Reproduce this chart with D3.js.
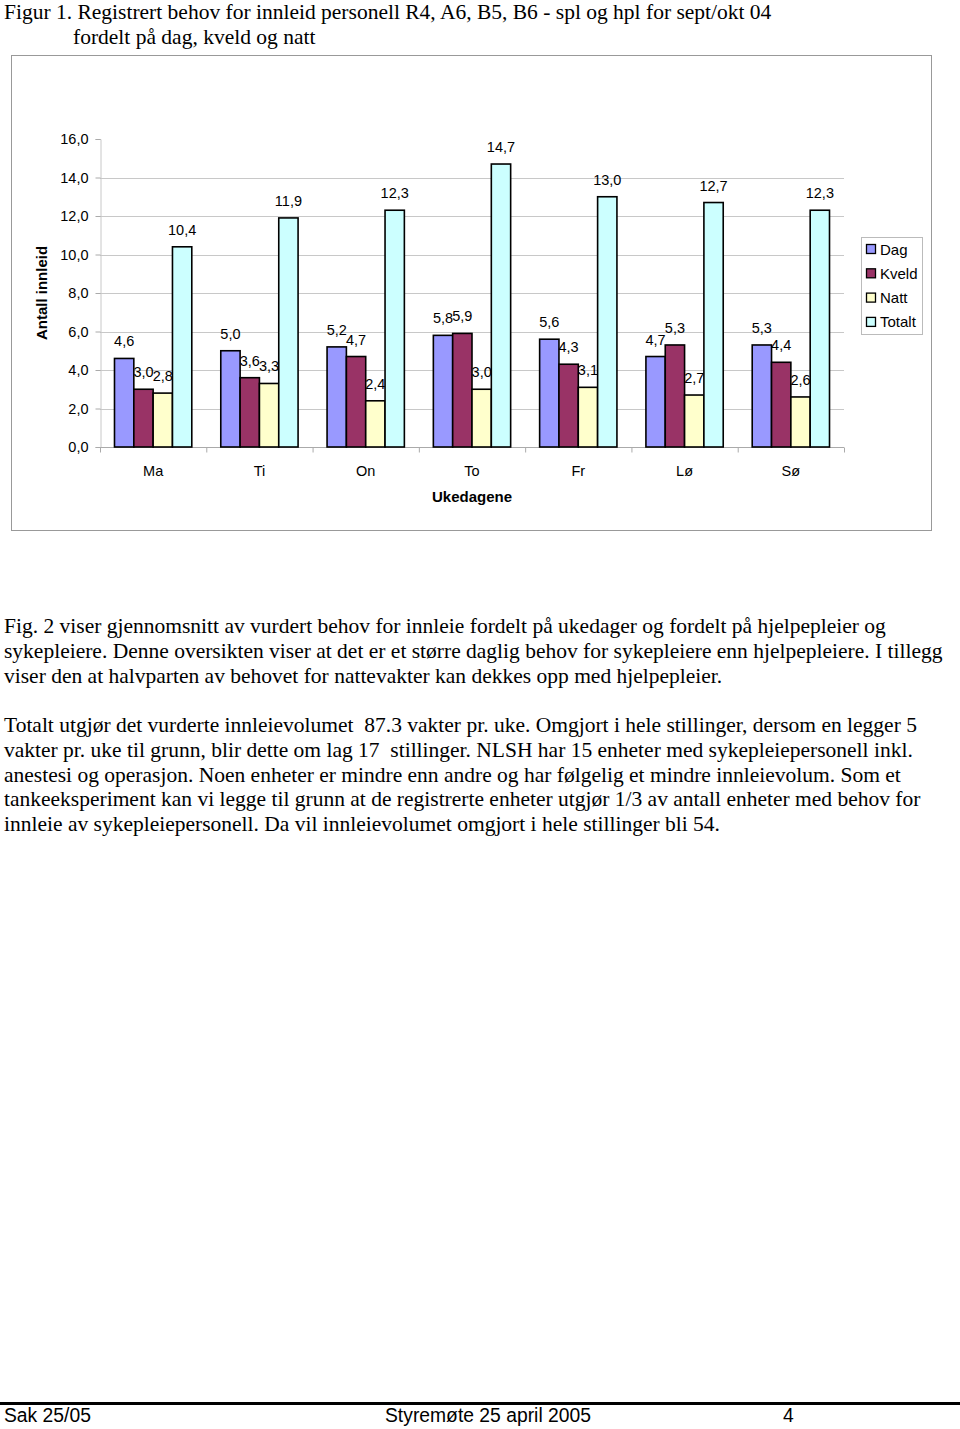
<!DOCTYPE html>
<html>
<head>
<meta charset="utf-8">
<script src="https://cdn.jsdelivr.net/npm/d3@7"></script>
<style>
  body { margin: 0; background: #fff; }
  svg { display: block; }
</style>
</head>
<body>
<div id="page"></div>
<script>
// chart data
const days = ["Ma", "Ti", "On", "To", "Fr", "Lø", "Sø"];
const seriesNames = ["Dag", "Kveld", "Natt", "Totalt"];
const dag = [4.6, 5.0, 5.2, 5.8, 5.6, 4.7, 5.3];
const kveld = [3.0, 3.6, 4.7, 5.9, 4.3, 5.3, 4.4];
const natt = [2.8, 3.3, 2.4, 3.0, 3.1, 2.7, 2.6];
const totalt = [10.4, 11.9, 12.3, 14.7, 13.0, 12.7, 12.3];
const seriesColors = ["#9999ff", "#993366", "#ffffcc", "#ccffff"];
const yTicks = [0, 2, 4, 6, 8, 10, 12, 14, 16];

const titleLines = [
  "Figur 1. Registrert behov for innleid personell R4, A6, B5, B6 - spl og hpl for sept/okt 04",
  "fordelt på dag, kveld og natt"
];
const para1 = [
  "Fig. 2 viser gjennomsnitt av vurdert behov for innleie fordelt på ukedager og fordelt på hjelpepleier og",
  "sykepleiere. Denne oversikten viser at det er et større daglig behov for sykepleiere enn hjelpepleiere. I tillegg",
  "viser den at halvparten av behovet for nattevakter kan dekkes opp med hjelpepleier."
];
const para2 = [
  "Totalt utgjør det vurderte innleievolumet  87.3 vakter pr. uke. Omgjort i hele stillinger, dersom en legger 5",
  "vakter pr. uke til grunn, blir dette om lag 17  stillinger. NLSH har 15 enheter med sykepleiepersonell inkl.",
  "anestesi og operasjon. Noen enheter er mindre enn andre og har følgelig et mindre innleievolum. Som et",
  "tankeeksperiment kan vi legge til grunn at de registrerte enheter utgjør 1/3 av antall enheter med behov for",
  "innleie av sykepleiepersonell. Da vil innleievolumet omgjort i hele stillinger bli 54."
];

const series = [dag, kveld, natt, totalt];
const fmt = v => d3.format(".1f")(v).replace(".", ",");

const svg = d3.select("#page").append("svg")
  .attr("width", 960)
  .attr("height", 1429);

const serif = "Liberation Serif, Times New Roman, serif";
const font = "Liberation Sans, Arial, sans-serif";
const fs = 14.5;

// title
svg.append("g").selectAll("text")
  .data(titleLines)
  .join("text")
  .attr("x", (d, i) => i === 0 ? 4 : 73)
  .attr("y", (d, i) => 19 + i * 24.5)
  .attr("font-family", serif)
  .attr("font-size", 21.5)
  .attr("fill", "#000")
  .text(d => d);

// chart frame
svg.append("rect")
  .attr("x", 11.5).attr("y", 55.5)
  .attr("width", 920).attr("height", 475)
  .attr("fill", "#fff")
  .attr("stroke", "#999")
  .attr("stroke-width", 1);

const plot = { left: 100, right: 844, top: 139, bottom: 447 };

const x0 = d3.scaleBand()
  .domain(days)
  .range([plot.left, plot.right])
  .paddingInner(0)
  .paddingOuter(0);

// bars take 4/5.5 of the category width
const x1 = d3.scaleBand()
  .domain(seriesNames)
  .range([0, x0.bandwidth() * 4 / 5.5]);
const groupOffset = x0.bandwidth() * 0.75 / 5.5;

const y = d3.scaleLinear().domain([0, 16]).range([plot.bottom, plot.top]);

// gridlines
svg.append("g").selectAll("line")
  .data(yTicks.filter(t => t > 0 && t < 16))
  .join("line")
  .attr("x1", plot.left).attr("x2", plot.right)
  .attr("y1", d => Math.round(y(d)) + 0.5)
  .attr("y2", d => Math.round(y(d)) + 0.5)
  .attr("stroke", "#c8c8c8");

// y axis
const yAxis = svg.append("g")
  .attr("transform", `translate(${plot.left + 0.5},0)`)
  .call(d3.axisLeft(y).tickValues(yTicks).tickSize(5).tickPadding(7).tickFormat(fmt));
yAxis.select(".domain").attr("stroke", "#c8c8c8");
yAxis.selectAll(".tick line").attr("stroke", "#aaa");
yAxis.selectAll(".tick text")
  .attr("font-family", font).attr("font-size", fs).attr("fill", "#000");

// x axis with ticks at category boundaries
const xAxisG = svg.append("g")
  .attr("transform", `translate(0,${plot.bottom + 0.5})`);
xAxisG.append("line")
  .attr("x1", plot.left).attr("x2", plot.right)
  .attr("stroke", "#aaa");
xAxisG.selectAll("line.tick")
  .data(days.concat(["end"]))
  .join("line")
  .attr("class", "tick")
  .attr("x1", (d, i) => i < days.length ? x0(d) + 0.5 : plot.right + 0.5)
  .attr("x2", (d, i) => i < days.length ? x0(d) + 0.5 : plot.right + 0.5)
  .attr("y1", 0).attr("y2", 5)
  .attr("stroke", "#aaa");
xAxisG.selectAll("text")
  .data(days)
  .join("text")
  .attr("x", d => x0(d) + x0.bandwidth() / 2)
  .attr("y", 28)
  .attr("text-anchor", "middle")
  .attr("font-family", font).attr("font-size", fs)
  .text(d => d);

// bars and labels, series by series so later bars cover earlier labels
series.forEach((vals, si) => {
  const name = seriesNames[si];
  const g = svg.append("g");
  g.selectAll("rect")
    .data(vals)
    .join("rect")
    .attr("x", (d, i) => x0(days[i]) + groupOffset + x1(name))
    .attr("y", d => y(d))
    .attr("width", x1.bandwidth())
    .attr("height", d => plot.bottom - y(d))
    .attr("fill", seriesColors[si])
    .attr("stroke", "#000")
    .attr("stroke-width", 1.6);
  g.selectAll("text")
    .data(vals)
    .join("text")
    .attr("x", (d, i) => x0(days[i]) + groupOffset + x1(name) + x1.bandwidth() / 2)
    .attr("y", d => y(d) - 12)
    .attr("text-anchor", "middle")
    .attr("font-family", font).attr("font-size", fs)
    .text(d => fmt(d));
});

// axis titles
svg.append("text")
  .attr("transform", "translate(47,293) rotate(-90)")
  .attr("text-anchor", "middle")
  .attr("font-family", font).attr("font-size", 15).attr("font-weight", "bold")
  .text("Antall innleid");
svg.append("text")
  .attr("x", 472).attr("y", 502)
  .attr("text-anchor", "middle")
  .attr("font-family", font).attr("font-size", 15).attr("font-weight", "bold")
  .text("Ukedagene");

// legend
const legend = svg.append("g");
legend.append("rect")
  .attr("x", 861.5).attr("y", 237.5)
  .attr("width", 61).attr("height", 97)
  .attr("fill", "#fff").attr("stroke", "#bbb");
const items = legend.selectAll("g.item")
  .data(seriesNames)
  .join("g")
  .attr("class", "item")
  .attr("transform", (d, i) => `translate(866,${249 + i * 24.3})`);
items.append("rect")
  .attr("x", 0.5).attr("y", -4.5)
  .attr("width", 9).attr("height", 9)
  .attr("fill", (d, i) => seriesColors[i])
  .attr("stroke", "#000").attr("stroke-width", 1.3);
items.append("text")
  .attr("x", 14).attr("y", 5.5)
  .attr("font-family", font).attr("font-size", 15)
  .text(d => d);

// body text
svg.append("g").selectAll("text")
  .data(para1)
  .join("text")
  .attr("x", 4)
  .attr("y", (d, i) => 633 + i * 24.8)
  .attr("font-family", serif).attr("font-size", 21.5)
  .text(d => d);
svg.append("g").selectAll("text")
  .data(para2)
  .join("text")
  .attr("x", 4)
  .attr("y", (d, i) => 732 + i * 24.8)
  .attr("font-family", serif).attr("font-size", 21.5)
  .style("white-space", "pre")
  .text(d => d);

// footer
svg.append("line")
  .attr("x1", 0).attr("x2", 960)
  .attr("y1", 1403.5).attr("y2", 1403.5)
  .attr("stroke", "#000").attr("stroke-width", 3);
const footer = [["Sak 25/05", 4], ["Styremøte 25 april 2005", 385], ["4", 783]];
svg.append("g").selectAll("text")
  .data(footer)
  .join("text")
  .attr("transform", d => `translate(${d[1]},1422) scale(0.92,1)`)
  .attr("font-family", font)
  .attr("font-size", 21)
  .text(d => d[0]);
</script>
</body>
</html>
